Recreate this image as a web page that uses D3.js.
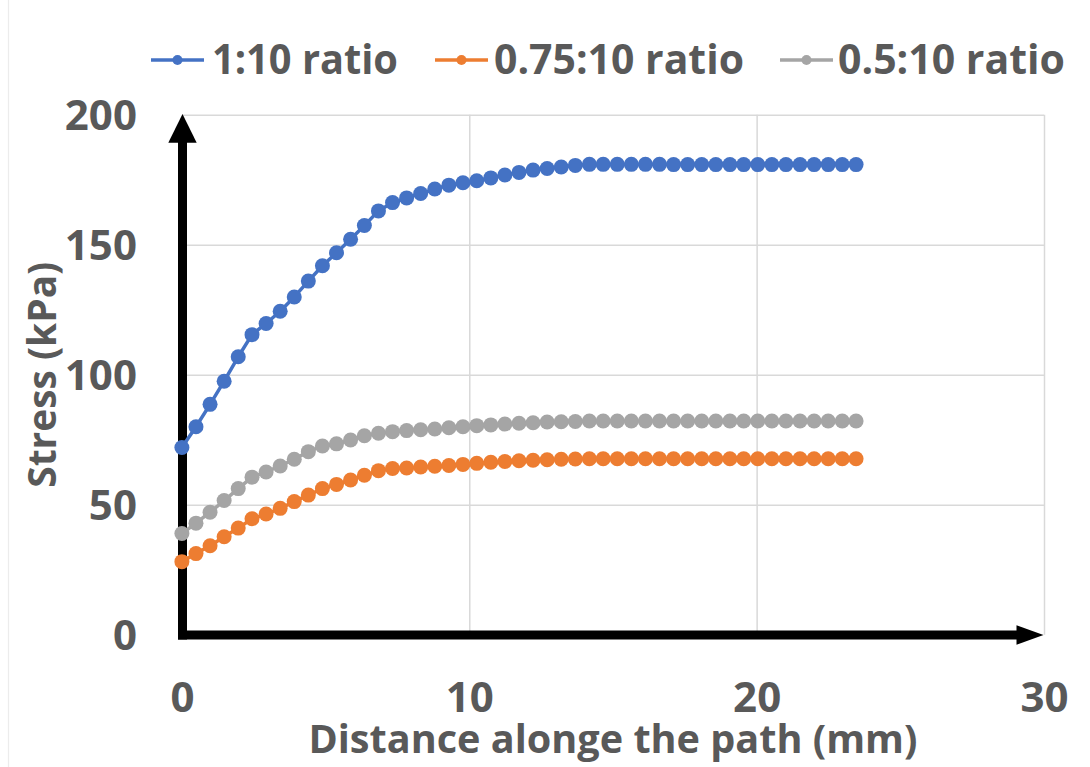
<!DOCTYPE html>
<html>
<head>
<meta charset="utf-8">
<script src="https://cdn.jsdelivr.net/npm/d3@7/dist/d3.min.js"></script>
<style>
  html, body { margin: 0; padding: 0; background: #ffffff; }
  svg { display: block; }
  text { font-family: "Open Sans", "Noto Sans", sans-serif; font-weight: 700; fill: #595959; }
</style>
</head>
<body>
<svg id="chart" width="1090" height="767"></svg>
<script>
// Distance along the path (mm)
const distance = [0, 0.49, 0.98, 1.47, 1.96, 2.44, 2.93, 3.42, 3.91, 4.40,
  4.89, 5.38, 5.87, 6.35, 6.84, 7.33, 7.82, 8.31, 8.80, 9.29,
  9.78, 10.26, 10.75, 11.24, 11.73, 12.22, 12.71, 13.20, 13.69, 14.18,
  14.66, 15.15, 15.64, 16.13, 16.62, 17.11, 17.60, 18.09, 18.58, 19.07,
  19.55, 20.04, 20.53, 21.02, 21.51, 22.00, 22.49, 22.98, 23.46];

// Stress (kPa) for each ratio
const stress_1_10 = [72.0, 80.0, 88.6, 97.5, 106.9, 115.4, 119.7, 124.4, 129.9, 136.0,
  141.9, 146.9, 152.1, 157.4, 163.0, 166.2, 168.0, 169.7, 171.4, 172.9,
  173.8, 174.6, 175.7, 176.8, 177.8, 178.7, 179.3, 179.9, 180.5, 180.9,
  180.9, 180.9, 180.9, 180.9, 180.9, 180.8, 180.8, 180.8, 180.8, 180.8,
  180.8, 180.8, 180.8, 180.8, 180.8, 180.8, 180.8, 180.8, 180.8];

const stress_075_10 = [28.1, 31.2, 34.2, 37.7, 41.0, 44.6, 46.4, 48.6, 51.2, 53.7,
  56.2, 57.8, 59.5, 61.3, 63.1, 63.9, 64.1, 64.5, 64.8, 65.1,
  65.5, 65.9, 66.3, 66.6, 66.9, 67.1, 67.3, 67.5, 67.6, 67.7,
  67.7, 67.7, 67.7, 67.7, 67.7, 67.7, 67.7, 67.7, 67.7, 67.7,
  67.7, 67.7, 67.7, 67.7, 67.7, 67.7, 67.7, 67.7, 67.7];

const stress_05_10 = [38.9, 42.9, 47.1, 51.6, 56.2, 60.6, 62.6, 64.9, 67.5, 70.4,
  72.6, 73.4, 74.9, 76.5, 77.5, 78.1, 78.5, 78.8, 79.1, 79.6,
  80.0, 80.4, 80.7, 81.0, 81.3, 81.5, 81.8, 81.9, 82.0, 82.2,
  82.2, 82.2, 82.2, 82.2, 82.2, 82.2, 82.2, 82.2, 82.2, 82.2,
  82.2, 82.2, 82.2, 82.2, 82.2, 82.2, 82.2, 82.2, 82.2];

const seriesNames = ["1:10 ratio", "0.75:10 ratio", "0.5:10 ratio"];
const seriesColors = ["#4472C4", "#ED7D31", "#A5A5A5"];
const xTicks = [0, 10, 20, 30];
const yTicks = [0, 50, 100, 150, 200];

const series = [stress_1_10, stress_075_10, stress_05_10].map((vals, i) => ({
  name: seriesNames[i],
  color: seriesColors[i],
  points: vals.map((v, j) => ({ x: distance[j], y: v }))
}));

const svg = d3.select("#chart");

const x = d3.scaleLinear().domain([0, 30]).range([181.9, 1044]);
const y = d3.scaleLinear().domain([0, 200]).range([634.7, 114.7]);

// faint outer frame edge on the left
svg.append("line")
  .attr("x1", 8.5).attr("x2", 8.5).attr("y1", 0).attr("y2", 767)
  .attr("stroke", "#ececec").attr("stroke-width", 1.2);

// gridlines
svg.append("g")
  .attr("transform", `translate(${x(0)},0)`)
  .call(d3.axisLeft(y).tickValues(yTicks.filter(t => t > 0))
    .tickSize(-(x(30) - x(0))).tickFormat(""))
  .call(g => g.select(".domain").remove())
  .call(g => g.selectAll(".tick line").attr("stroke", "#d9d9d9").attr("stroke-width", 1.5));

svg.append("g")
  .attr("transform", `translate(0,${y(200)})`)
  .call(d3.axisTop(x).tickValues(xTicks.filter(t => t > 0))
    .tickSize(-(y(0) - y(200))).tickFormat(""))
  .call(g => g.select(".domain").remove())
  .call(g => g.selectAll(".tick line").attr("stroke", "#d9d9d9").attr("stroke-width", 1.5));

// tick labels
svg.append("g")
  .attr("transform", `translate(${x(0)},0)`)
  .call(d3.axisLeft(y).tickValues(yTicks).tickSize(0).tickPadding(45))
  .call(g => g.select(".domain").remove())
  .call(g => g.selectAll("text")
    .attr("dy", "0.36em")
    .attr("font-size", 42)
    .attr("font-family", null)
    .attr("fill", "#595959"));

svg.append("g")
  .attr("transform", `translate(0,${y(0)})`)
  .call(d3.axisBottom(x).tickValues(xTicks).tickSize(0))
  .call(g => g.select(".domain").remove())
  .call(g => g.selectAll("text")
    .attr("y", 77)
    .attr("dy", 0)
    .attr("font-size", 42)
    .attr("font-family", null)
    .attr("fill", "#595959"));

// arrowed axes
const axisColor = "#000000";
const vx = x(0) + 0.6;
const hy = y(0) + 0.3;
svg.append("line")
  .attr("x1", vx).attr("x2", vx)
  .attr("y1", hy + 4.5).attr("y2", y(200) + 27)
  .attr("stroke", axisColor).attr("stroke-width", 9);
svg.append("path")
  .attr("d", `M${vx},${y(200) - 0.7} L${vx - 14.2},${y(200) + 28} L${vx + 14.2},${y(200) + 28} Z`)
  .attr("fill", axisColor);

svg.append("line")
  .attr("x1", vx - 4.5).attr("x2", x(30) - 25)
  .attr("y1", hy).attr("y2", hy)
  .attr("stroke", axisColor).attr("stroke-width", 9);
svg.append("path")
  .attr("d", `M${x(30) - 0.5},${hy} L${x(30) - 27.5},${hy - 9.8} L${x(30) - 27.5},${hy + 9.8} Z`)
  .attr("fill", axisColor);

// series
const line = d3.line().x(d => x(d.x)).y(d => y(d.y));
const seriesG = svg.append("g");
series.forEach(s => {
  const g = seriesG.append("g");
  g.append("path")
    .datum(s.points)
    .attr("d", line)
    .attr("fill", "none")
    .attr("stroke", s.color)
    .attr("stroke-width", 3.5)
    .attr("stroke-linejoin", "round");
  g.selectAll("circle")
    .data(s.points)
    .join("circle")
    .attr("cx", d => x(d.x))
    .attr("cy", d => y(d.y))
    .attr("r", 7.5)
    .attr("fill", s.color);
});

// axis titles
svg.append("text")
  .attr("x", (x(0) + x(30)) / 2)
  .attr("y", 753)
  .attr("text-anchor", "middle")
  .attr("font-size", 39)
  .attr("textLength", 609)
  .attr("lengthAdjust", "spacingAndGlyphs")
  .text("Distance alonge the path (mm)");

svg.append("text")
  .attr("transform", `translate(56,${(y(0) + y(200)) / 2}) rotate(-90)`)
  .attr("text-anchor", "middle")
  .attr("font-size", 39)
  .attr("textLength", 226)
  .attr("lengthAdjust", "spacingAndGlyphs")
  .text("Stress (kPa)");

// legend
const legendItems = [
  { lineX: 151, textX: 212, textW: 186 },
  { lineX: 435, textX: 494, textW: 250 },
  { lineX: 780, textX: 838, textW: 227 }
];
const legend = svg.append("g");
series.forEach((s, i) => {
  const it = legendItems[i];
  legend.append("line")
    .attr("x1", it.lineX).attr("x2", it.lineX + 53)
    .attr("y1", 60).attr("y2", 60)
    .attr("stroke", s.color).attr("stroke-width", 3.5);
  legend.append("circle")
    .attr("cx", it.lineX + 26.5).attr("cy", 60).attr("r", 5)
    .attr("fill", s.color);
  legend.append("text")
    .attr("x", it.textX).attr("y", 73.5)
    .attr("font-size", 42)
    .attr("textLength", it.textW)
    .attr("lengthAdjust", "spacingAndGlyphs")
    .text(s.name);
});
</script>
</body>
</html>
